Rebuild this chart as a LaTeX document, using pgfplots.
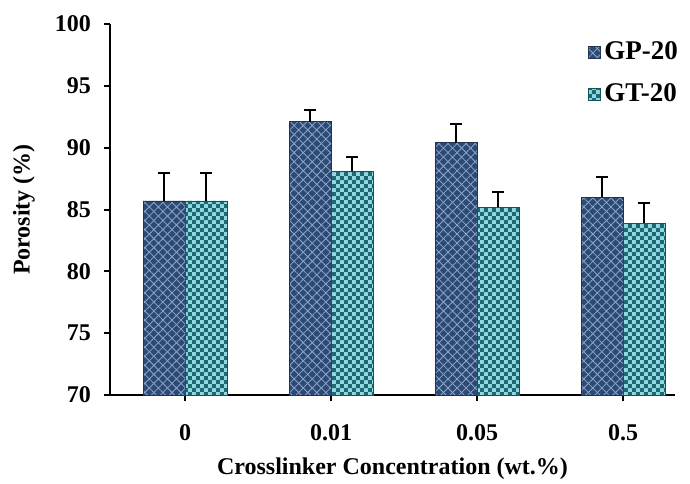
\documentclass[border=0pt]{standalone}
\usepackage{pgfplots}
\pgfplotsset{compat=1.18}
\usepackage{fontspec}
\setmainfont{Liberation Serif}
\usetikzlibrary{patterns,patterns.meta}
\definecolor{gpfill}{HTML}{2C4A72}
\definecolor{gpline}{HTML}{8EA6CF}
\definecolor{gtfill}{HTML}{8FD9E2}
\definecolor{gtdark}{HTML}{1F6870}
\pgfdeclarepatternformonly{smallcheck}{\pgfpointorigin}{\pgfqpoint{4.2pt}{4.2pt}}{\pgfqpoint{4.2pt}{4.2pt}}{%
  \pgfpathrectangle{\pgfpointorigin}{\pgfqpoint{2.1pt}{2.1pt}}%
  \pgfpathrectangle{\pgfqpoint{2.1pt}{2.1pt}}{\pgfqpoint{2.1pt}{2.1pt}}%
  \pgfusepath{fill}}
\begin{document}
\begin{tikzpicture}
\begin{axis}[
  scale only axis,
  width=282.5pt, height=185.5pt,
  ymin=70, ymax=100,
  ytick={70,75,80,85,90,95,100},
  xmin=-0.514, xmax=3.356,
  xtick={0,1,2,3},
  xticklabels={0,0.01,0.05,0.5},
  axis x line*=bottom, axis y line*=left,
  axis line style={line width=1.3pt},
  tick style={line width=1pt, black},
  major tick length=3pt,
  tick align=outside,
  /pgf/number format/assume math mode=true,
  tick label style={font=\fontsize{12}{14}\selectfont\bfseries},
  yticklabel style={xshift=-3pt},
  xticklabel style={yshift=-8pt},
  xlabel={Crosslinker Concentration (wt.\%)},
  ylabel={Porosity (\%)},
  label style={font=\fontsize{12}{14}\selectfont\bfseries},
  xlabel style={at={(rel axis cs:0.5,0)}, anchor=center, yshift=-37pt},
  ylabel style={at={(rel axis cs:0,0.5)}, anchor=center, yshift=43pt},
  ybar=0pt, bar width=21pt,
  clip=false,
  legend style={at={(rel axis cs:0.845,0.985)}, anchor=north west, yshift=-4pt, draw=none, fill=none,
    font=\fontsize{13.5}{15}\selectfont\bfseries, row sep=6.5pt, inner sep=0pt},
  legend cell align=left,
  legend image code/.code={\draw[#1, draw=none] (0pt,-3pt) rectangle (6pt,3pt);},
  error bars/y dir=plus, error bars/y explicit,
  error bars/error bar style={line width=0.9pt, black},
  error bars/error mark options={rotate=90, mark size=3pt, line width=0.9pt, black},
]
\addplot[fill=gpfill, draw=gpfill!70!black, line width=0.3pt,
  postaction={pattern={Lines[angle=45,distance=3.2pt,line width=0.4pt]}, pattern color=gpline},
  postaction={pattern={Lines[angle=-45,distance=3.2pt,line width=0.4pt]}, pattern color=gpline}]
  coordinates {(0,85.7) +- (0,2.25) (1,92.1) +- (0,0.95) (2,90.4) +- (0,1.5) (3,86.0) +- (0,1.65)};
\addlegendentry{GP-20}
\addplot[fill=gtfill, draw=gtdark!80!black, line width=0.3pt,
  postaction={pattern=smallcheck, pattern color=gtdark}]
  coordinates {(0,85.7) +- (0,2.25) (1,88.1) +- (0,1.15) (2,85.2) +- (0,1.2) (3,83.9) +- (0,1.6)};
\addlegendentry{GT-20}
\path (rel axis cs:0,0) ++(-55pt,-44pt) coordinate (bl);
\path (rel axis cs:1,1) ++(7.5pt,12pt) coordinate (tr);
\end{axis}
\pgfresetboundingbox
\path[use as bounding box] (bl) rectangle (tr);
\end{tikzpicture}
\end{document}
